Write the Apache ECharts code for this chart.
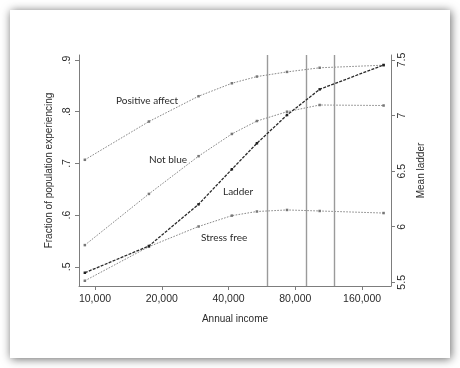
<!DOCTYPE html>
<html>
<head>
<meta charset="utf-8">
<script src="https://cdn.jsdelivr.net/npm/echarts@6/dist/echarts.min.js"></script>
<style>
html,body{margin:0;padding:0;background:#fff;}
#c{width:460px;height:368px;}
</style>
</head>
<body>
<div id="c"></div>
<script>
// ---- data ----
var incomes = [9000, 17500, 29300, 41400, 53700, 73400, 103000, 200000];
var positiveAffect = [0.707, 0.781, 0.830, 0.855, 0.868, 0.877, 0.885, 0.890];
var notBlue = [0.542, 0.641, 0.714, 0.757, 0.782, 0.800, 0.813, 0.812];
var stressFree = [0.473, 0.539, 0.578, 0.599, 0.607, 0.610, 0.608, 0.604];
var ladder = [5.586, 5.827, 6.202, 6.517, 6.751, 7.005, 7.236, 7.455];
var thresholds = [60000, 90000, 120000];
var xTickValues = [10000, 20000, 40000, 80000, 160000];
var leftTickValues = [0.5, 0.6, 0.7, 0.8, 0.9];
var rightTickValues = [5.5, 6, 6.5, 7, 7.5];
var seriesNames = ['Positive affect', 'Not blue', 'Stress free', 'Ladder'];

function pairs(ys) { return incomes.map(function (x, i) { return [x, ys[i]]; }); }

var chart = echarts.init(document.getElementById('c'), null, { renderer: 'canvas' });
var FONT = 'Liberation Sans';
var TXT = '#2b2b2b';
var AX = '#7d7d7d';

var thinStyle = { color: '#888', width: 1, type: [1.6, 1.4] };

function thinSeries(name, ys) {
  return {
    name: name, type: 'line', xAxisIndex: 0, yAxisIndex: 0,
    data: pairs(ys), symbol: 'rect', symbolSize: 2.5, showSymbol: true,
    itemStyle: { color: '#777' }, lineStyle: thinStyle, silent: true, animation: false
  };
}

var option = {
  animation: false,
  backgroundColor: '#fff',
  grid: { left: 79, right: 69, top: 55, bottom: 82, containLabel: false },
  xAxis: [{
    type: 'log', logBase: 2, min: 8470, max: 216000,
    name: 'Annual income', nameLocation: 'middle', nameGap: 28,
    nameTextStyle: { fontFamily: FONT, fontSize: 10, color: TXT },
    axisLine: { show: true, lineStyle: { color: AX, width: 1 } },
    axisTick: { show: true, inside: false, length: 4, lineStyle: { color: AX }, customValues: xTickValues },
    axisLabel: {
      customValues: xTickValues, margin: 8, fontFamily: FONT, fontSize: 10.5, color: TXT,
      formatter: function (v) { return Math.round(v).toLocaleString('en-US'); }
    },
    splitLine: { show: false }, minorTick: { show: false }
  }],
  yAxis: [{
    type: 'value', position: 'left', min: 0.4629, max: 0.9097,
    name: 'Fraction of population experiencing', nameLocation: 'middle', nameGap: 25,
    nameTextStyle: { fontFamily: FONT, fontSize: 10, color: TXT },
    axisLine: { show: true, onZero: false, lineStyle: { color: AX, width: 1 } },
    axisTick: { show: true, length: 4, lineStyle: { color: AX }, customValues: leftTickValues },
    axisLabel: {
      customValues: leftTickValues, rotate: 90, margin: 6, fontFamily: FONT, fontSize: 10.5, color: TXT,
      formatter: function (v) { return String(Math.round(v * 10) / 10).replace(/^0/, ''); }
    },
    splitLine: { show: false }
  }, {
    type: 'value', position: 'right', min: 5.467, max: 7.545,
    name: 'Mean ladder', nameLocation: 'middle', nameGap: 20,
    nameTextStyle: { fontFamily: FONT, fontSize: 10, color: TXT },
    axisLine: { show: true, onZero: false, lineStyle: { color: AX, width: 1 } },
    axisTick: { show: true, length: 4, lineStyle: { color: AX }, customValues: rightTickValues },
    axisLabel: {
      customValues: rightTickValues, rotate: 90, margin: 6, fontFamily: FONT, fontSize: 10.5, color: TXT,
      formatter: function (v) { return String(v); }
    },
    splitLine: { show: false }
  }],
  series: [
    thinSeries(seriesNames[0], positiveAffect),
    thinSeries(seriesNames[1], notBlue),
    thinSeries(seriesNames[2], stressFree),
    {
      name: seriesNames[3], type: 'line', xAxisIndex: 0, yAxisIndex: 1,
      data: pairs(ladder), symbol: 'rect', symbolSize: 2.5,
      itemStyle: { color: '#222' }, lineStyle: { color: '#2a2a2a', width: 1.3, type: [3, 1.3] },
      silent: true, animation: false, z: 5,
      markLine: {
        silent: true, symbol: 'none', animation: false,
        label: { show: false },
        lineStyle: { color: '#9a9a9a', width: 1.4, type: 'solid' },
        data: thresholds.map(function (t) { return { xAxis: t }; })
      }
    }
  ],
  graphic: [
    { type: 'rect', z: -10, shape: { x: 10, y: 10, width: 440, height: 348 },
      style: { fill: '#fff', shadowColor: 'rgba(0,0,0,0.6)', shadowBlur: 9, shadowOffsetX: 1, shadowOffsetY: 1 }, silent: true },
    { type: 'text', left: 116, top: 96, style: { text: seriesNames[0], font: '10px Lato', fill: TXT } },
    { type: 'text', left: 149, top: 155, style: { text: seriesNames[1], font: '10px Lato', fill: TXT } },
    { type: 'text', left: 223, top: 187, style: { text: seriesNames[3], font: '10px Lato', fill: TXT } },
    { type: 'text', left: 201, top: 233, style: { text: seriesNames[2], font: '10px Lato', fill: TXT } }
  ]
};
chart.setOption(option);
</script>
</body>
</html>
